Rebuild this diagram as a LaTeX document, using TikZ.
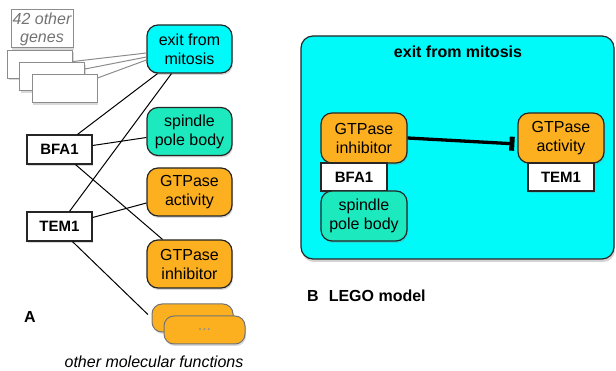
\documentclass[tikz,border=0pt]{standalone}
\usepackage{fontspec}
\setmainfont{Liberation Sans}
\usetikzlibrary{arrows.meta,shadows}
\definecolor{exitcyan}{RGB}{0,250,250}
\definecolor{spbgreen}{RGB}{28,234,190}
\definecolor{gtporange}{RGB}{252,176,32}

\begin{document}
\begin{tikzpicture}[x=1pt, y=-1pt,
    % node styles
    funcnode/.style={rectangle, rounded corners=11pt, line width=1.2pt, draw=black!85, align=center, inner sep=0pt, minimum width=85pt, minimum height=48pt, font=\fontsize{16}{19}\selectfont, drop shadow={opacity=0.3, shadow xshift=1pt, shadow yshift=-2pt}},
    genenode/.style={rectangle, line width=1.2pt, draw=black!85, fill=white, inner sep=0pt, minimum width=65pt, minimum height=29pt, font=\fontsize{15}{18}\selectfont\bfseries, drop shadow={opacity=0.3, shadow xshift=1pt, shadow yshift=-2pt}},
    othergene/.style={rectangle, line width=1pt, draw=black!45, fill=white, inner sep=0pt, minimum width=65pt, minimum height=28pt, drop shadow={opacity=0.3, shadow xshift=1pt, shadow yshift=-2pt}},
    otherfunc/.style={rectangle, rounded corners=10pt, line width=1pt, draw=black!55, fill=gtporange, inner sep=0pt, minimum width=81pt, minimum height=28pt, drop shadow={opacity=0.3, shadow xshift=1pt, shadow yshift=-2pt}},
    link/.style={line width=1pt, draw=black},
    greylink/.style={line width=1pt, draw=black!45},
    panel/.style={font=\fontsize{16}{19}\selectfont\bfseries, inner sep=0pt}
]
    \useasboundingbox (0,0) rectangle (616,371);

    % A: genes and their annotations
    \node [othergene, minimum width=62pt, minimum height=38pt, align=center, text=black!55, font=\fontsize{16}{18}\selectfont\itshape] (many) at (42,29) {42 other\\genes};
    \node [othergene] (g1) at (40,64.5) {};
    \node [othergene] (g2) at (52,77) {};
    \node [othergene] (g3) at (64.5,89) {};

    \node [funcnode, fill=exitcyan] (exit) at (189.5,49) {exit from\\mitosis};
    \node [funcnode, fill=spbgreen] (spb) at (189.5,131.5) {spindle\\pole body};
    \node [funcnode, fill=gtporange] (act) at (189.5,192) {GTPase\\activity};
    \node [funcnode, fill=gtporange] (inh) at (189.5,264) {GTPase\\inhibitor};
    \node [otherfunc] (of1) at (192.5,318) {};
    \node [otherfunc, text=black!45, font=\fontsize{16}{18}\selectfont] (of2) at (204.5,330) {...};

    \node [genenode] (bfa) at (59.5,149.5) {BFA1};
    \node [genenode] (tem) at (59.5,226.5) {TEM1};

    % annotation links
    \draw [greylink] ([yshift=3pt]g1.east) -- ([yshift=-4pt]exit.west);
    \draw [greylink] ([yshift=8pt]g2.east) -- ([yshift=-8pt]exit.west);
    \draw [greylink] ([yshift=11pt]g3.east) -- ([yshift=-11pt]exit.west);
    \draw [link] ([xshift=18pt]bfa.north) -- ([xshift=-32pt]exit.south);
    \draw [link] ([xshift=10pt]tem.north) -- ([xshift=-18pt]exit.south);
    \draw [link] ([yshift=4pt]bfa.east) -- ([yshift=-6pt]spb.west);
    \draw [link] ([xshift=16pt]bfa.south) -- ([xshift=-27pt]inh.north);
    \draw [link] ([yshift=9pt]tem.east) -- ([yshift=-11pt]act.west);
    \draw [link, shorten >=5pt] ([xshift=13pt]tem.south) -- (of1.west);

    \node [panel] (labA) at (30,317) {A};
    \node [font=\fontsize{16}{19}\selectfont\itshape, inner sep=0pt] (ofun) at (154,362) {other molecular functions};

    % B: LEGO model
    \node [rectangle, rounded corners=12pt, line width=1.2pt, draw=black!85, fill=exitcyan, minimum width=313pt, minimum height=223pt, drop shadow={opacity=0.35, shadow xshift=1pt, shadow yshift=-3pt}] (lego) at (457.5,147.5) {};
    \node [panel] (legotitle) at (458,52) {exit from mitosis};

    \node [funcnode, fill=gtporange, minimum width=86pt, minimum height=50pt, drop shadow={opacity=0}] (inh2) at (364,138) {GTPase\\inhibitor};
    \node [genenode, minimum width=66pt, minimum height=28pt, drop shadow={opacity=0}] (bfa2) at (354,177) {BFA1};
    \node [funcnode, fill=spbgreen, minimum width=86pt, minimum height=50pt, drop shadow={opacity=0}] (spb2) at (364,216) {spindle\\pole body};
    \node [funcnode, fill=gtporange, minimum width=86pt, minimum height=50pt, drop shadow={opacity=0}] (act2) at (561,138) {GTPase\\activity};
    \node [genenode, minimum width=66pt, minimum height=28pt, drop shadow={opacity=0}] (tem2) at (561,177) {TEM1};

    \draw [line width=3.3pt, -{Bar[width=14pt, line width=5pt]}, shorten >=3pt] (inh2.east) -- ([yshift=-6pt]act2.west);

    \node [panel, anchor=west] (labB) at (307,296) {B\hspace{10pt}LEGO model};
\end{tikzpicture}
\end{document}
